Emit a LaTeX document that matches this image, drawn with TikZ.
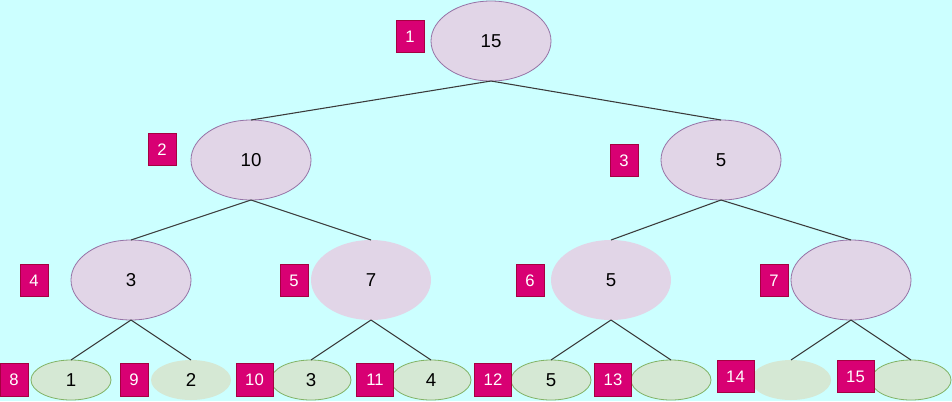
\documentclass[tikz,border=0pt]{standalone}
\usepackage{fontspec}
\setmainfont{Liberation Sans}
\usetikzlibrary{shapes.geometric}
\definecolor{bgc}{HTML}{CCFFFF}
\definecolor{pfill}{HTML}{E1D5E7}
\definecolor{pdraw}{HTML}{9673A6}
\definecolor{gfill}{HTML}{D5E8D4}
\definecolor{gdraw}{HTML}{82B366}
\definecolor{kfill}{HTML}{D80073}
\definecolor{kdraw}{HTML}{A50040}
\definecolor{linec}{HTML}{3A3A3A}
\tikzset{
  bigel/.style={ellipse, fill=pfill, draw=pdraw, line width=0.6pt, inner sep=0pt, outer sep=0pt,
    minimum width=90pt, minimum height=60pt, font=\fontsize{14pt}{16pt}\selectfont, text=black},
  leafel/.style={ellipse, fill=gfill, draw=gdraw, line width=0.6pt, inner sep=0pt, outer sep=0pt,
    minimum width=60pt, minimum height=30pt, font=\fontsize{14pt}{16pt}\selectfont, text=black},
  nob/.style={draw=none},
  tag/.style={rectangle, fill=kfill, draw=kdraw, line width=0.6pt, inner sep=0pt, outer sep=0pt,
    minimum width=21pt, minimum height=24.5pt, text=white, font=\fontsize{12.5pt}{14pt}\selectfont},
  wtag/.style={tag, minimum width=27.75pt},
  conn/.style={draw=linec, line width=0.8pt}
}
\begin{document}
\begin{tikzpicture}[x=0.75pt,y=-0.75pt]
\fill[bgc] (0,0) rectangle (952,401);
\useasboundingbox (0,0) rectangle (952,401);
% tree nodes
\node[bigel] (r) at (491,41) {15};
\node[bigel] (a) at (251,160) {10};
\node[bigel] (b) at (721,160) {5};
\node[bigel] (c) at (131,280) {3};
\node[bigel,nob] (d) at (371,280) {7};
\node[bigel,nob] (e) at (611,280) {5};
\node[bigel] (f) at (851,280) {};
\node[leafel] (l1) at (71,380) {1};
\node[leafel,nob] (l2) at (191,380) {2};
\node[leafel] (l3) at (311,380) {3};
\node[leafel] (l4) at (431,380) {4};
\node[leafel] (l5) at (551,380) {5};
\node[leafel] (l6) at (671,380) {};
\node[leafel,nob] (l7) at (791,380) {};
\node[leafel] (l8) at (911,380) {};
% connectors
\draw[conn] (r.south) -- (a.north);
\draw[conn] (r.south) -- (b.north);
\draw[conn] (a.south) -- (c.north);
\draw[conn] (a.south) -- (d.north);
\draw[conn] (b.south) -- (e.north);
\draw[conn] (b.south) -- (f.north);
\draw[conn] (c.south) -- (l1.north);
\draw[conn] (c.south) -- (l2.north);
\draw[conn] (d.south) -- (l3.north);
\draw[conn] (d.south) -- (l4.north);
\draw[conn] (e.south) -- (l5.north);
\draw[conn] (e.south) -- (l6.north);
\draw[conn] (f.south) -- (l7.north);
\draw[conn] (f.south) -- (l8.north);
% index tags
\node[tag] (k1) at (410,36.5) {1};
\node[tag] (k2) at (162,149.5) {2};
\node[tag] (k3) at (624,160.5) {3};
\node[tag] (k4) at (34,280.5) {4};
\node[tag] (k5) at (294,280.5) {5};
\node[tag] (k6) at (530,280.5) {6};
\node[tag] (k7) at (774,280.5) {7};
\node[tag] (k8) at (14,380) {8};
\node[tag] (k9) at (134,380) {9};
\node[wtag] (k10) at (254.5,380) {10};
\node[wtag] (k11) at (375,380) {11};
\node[wtag] (k12) at (493,380) {12};
\node[wtag] (k13) at (613,380) {13};
\node[wtag] (k14) at (735.5,376.5) {14};
\node[wtag] (k15) at (855.5,376.5) {15};
\end{tikzpicture}
\end{document}
